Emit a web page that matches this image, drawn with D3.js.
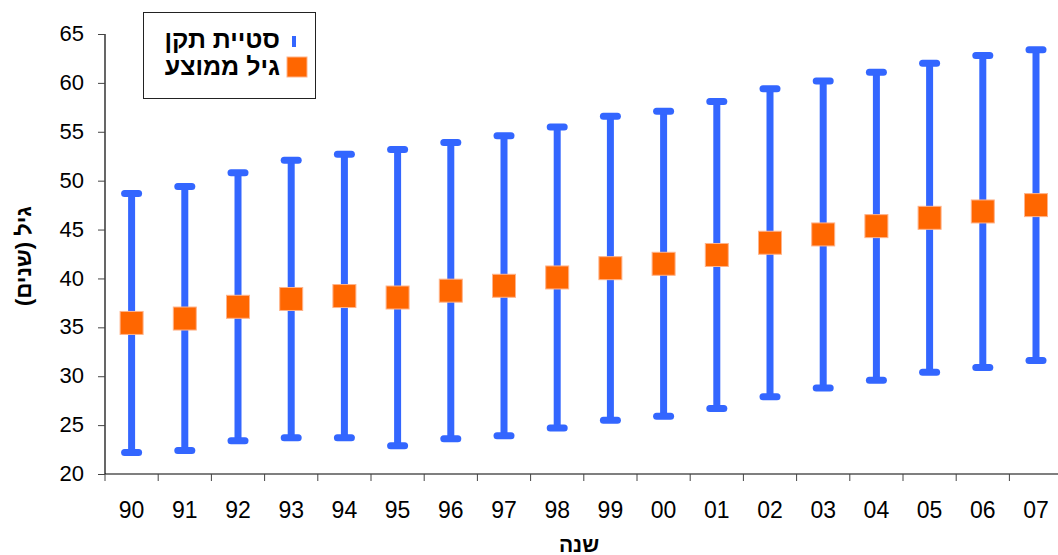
<!DOCTYPE html>
<html>
<head>
<meta charset="utf-8">
<script src="https://cdn.jsdelivr.net/npm/d3@7/dist/d3.min.js"></script>
<style>
  html, body { margin: 0; padding: 0; background: #fff; overflow: hidden; }
  svg { display: block; font-family: Arial, "Liberation Sans", sans-serif; }
</style>
</head>
<body>
<svg id="chart" width="1058" height="555"></svg>
<script>
// ---- data ----
const years = ["90","91","92","93","94","95","96","97","98","99","00","01","02","03","04","05","06","07"];
const meanAge = [35.45,35.9,37.1,37.9,38.2,38.05,38.75,39.25,40.1,41.05,41.5,42.4,43.65,44.5,45.35,46.2,46.85,47.5];
const stdDev  = [13.25,13.5,13.7,14.2,14.5,15.15,15.15,15.35,15.4,15.55,15.6,15.7,15.75,15.7,15.75,15.8,15.95,15.9];
const yTicks = [20,25,30,35,40,45,50,55,60,65];
const seriesNames = ["סטיית תקן", "גיל ממוצע"];
const xTitle = "שנה";
const yTitle = "גיל (שנים)";

// ---- layout ----
const plotLeft = 105, plotTop = 34, plotBottom = 474, band = 53.2;
const plotRight = plotLeft + band * years.length;
const blue = "#3366FF", orange = "#FF6600";
const FONT = "Arial, 'Liberation Sans', sans-serif";

const svg = d3.select("#chart");

const x = d3.scaleBand().domain(years).range([plotLeft, plotRight]).padding(0);
const y = d3.scaleLinear().domain([20, 65]).range([plotBottom, plotTop]);

// y axis
const yAxis = svg.append("g")
  .attr("transform", `translate(${plotLeft},0)`)
  .call(d3.axisLeft(y).tickValues(yTicks).tickSize(7).tickPadding(14).tickFormat(d3.format("d")));
yAxis.select(".domain").attr("stroke", "#000").attr("stroke-width", 1.2).attr("d", `M0,${plotTop}V${plotBottom}`);
yAxis.selectAll(".tick line").attr("stroke", "#444");
yAxis.selectAll(".tick text").attr("font-size", 22).attr("fill", "#000").attr("font-family", FONT).attr("dy", "0.3em");

// x axis
const xAxis = svg.append("g")
  .attr("transform", `translate(0,${plotBottom})`)
  .call(d3.axisBottom(x).tickSize(0).tickPadding(0));
xAxis.select(".domain").attr("stroke", "#000").attr("stroke-width", 1.2).attr("d", `M${plotLeft},0H${plotRight}`);
xAxis.selectAll(".tick text").attr("font-size", 23).attr("fill", "#000").attr("font-family", FONT)
  .attr("y", 44).attr("dy", null);
// boundary tick marks between categories
xAxis.selectAll("line.bound")
  .data(d3.range(years.length + 1))
  .join("line")
  .attr("class", "bound")
  .attr("x1", i => plotLeft + i * x.bandwidth())
  .attr("x2", i => plotLeft + i * x.bandwidth())
  .attr("y1", 0).attr("y2", 7)
  .attr("stroke", "#444").attr("stroke-width", 1);

// error bars
const data = years.map((yr, i) => ({ yr, m: meanAge[i], sd: stdDev[i] }));
const cx = d => x(d.yr) + x.bandwidth() / 2;
const eb = svg.append("g").attr("stroke", blue).attr("stroke-width", 7).attr("stroke-linecap", "round");
eb.selectAll("line.v").data(data).join("line").attr("class", "v")
  .attr("x1", cx).attr("x2", cx)
  .attr("y1", d => y(d.m + d.sd)).attr("y2", d => y(d.m - d.sd))
  .attr("stroke-linecap", "butt");
eb.selectAll("line.top").data(data).join("line").attr("class", "top")
  .attr("x1", d => cx(d) - 7).attr("x2", d => cx(d) + 7)
  .attr("y1", d => y(d.m + d.sd)).attr("y2", d => y(d.m + d.sd));
eb.selectAll("line.bot").data(data).join("line").attr("class", "bot")
  .attr("x1", d => cx(d) - 7).attr("x2", d => cx(d) + 7)
  .attr("y1", d => y(d.m - d.sd)).attr("y2", d => y(d.m - d.sd));

// mean squares
const sq = 23;
svg.append("g").selectAll("rect").data(data).join("rect")
  .attr("x", d => cx(d) - sq / 2)
  .attr("y", d => y(d.m) - sq / 2)
  .attr("width", sq).attr("height", sq)
  .attr("fill", orange).attr("stroke", "#FFB38A").attr("stroke-width", 1);

// axis titles
svg.append("text")
  .attr("x", 579).attr("y", 552)
  .attr("text-anchor", "middle").attr("font-size", 21).attr("font-weight", "bold")
  .text(xTitle);
svg.append("text")
  .attr("transform", `translate(31,${(plotTop + plotBottom) / 2 + 2}) rotate(-90)`)
  .attr("text-anchor", "middle").attr("direction", "rtl").attr("font-size", 22).attr("font-weight", "bold")
  .text(yTitle);

// legend
const lg = svg.append("g");
lg.append("rect").attr("x", 143.5).attr("y", 12.5).attr("width", 172).attr("height", 86)
  .attr("fill", "#fff").attr("stroke", "#222").attr("stroke-width", 1);
lg.append("line").attr("x1", 294).attr("x2", 294).attr("y1", 36).attr("y2", 47)
  .attr("stroke", blue).attr("stroke-width", 4);
lg.append("rect").attr("x", 287).attr("y", 57).attr("width", 20).attr("height", 20)
  .attr("fill", orange).attr("stroke", "#FFB38A").attr("stroke-width", 1);
lg.selectAll("text.lt").data(seriesNames).join("text").attr("class", "lt")
  .attr("x", 280).attr("y", (d, i) => 48 + i * 27)
  .attr("text-anchor", "end").attr("font-size", 25).attr("font-weight", "bold")
  .text(d => d);
</script>
</body>
</html>
